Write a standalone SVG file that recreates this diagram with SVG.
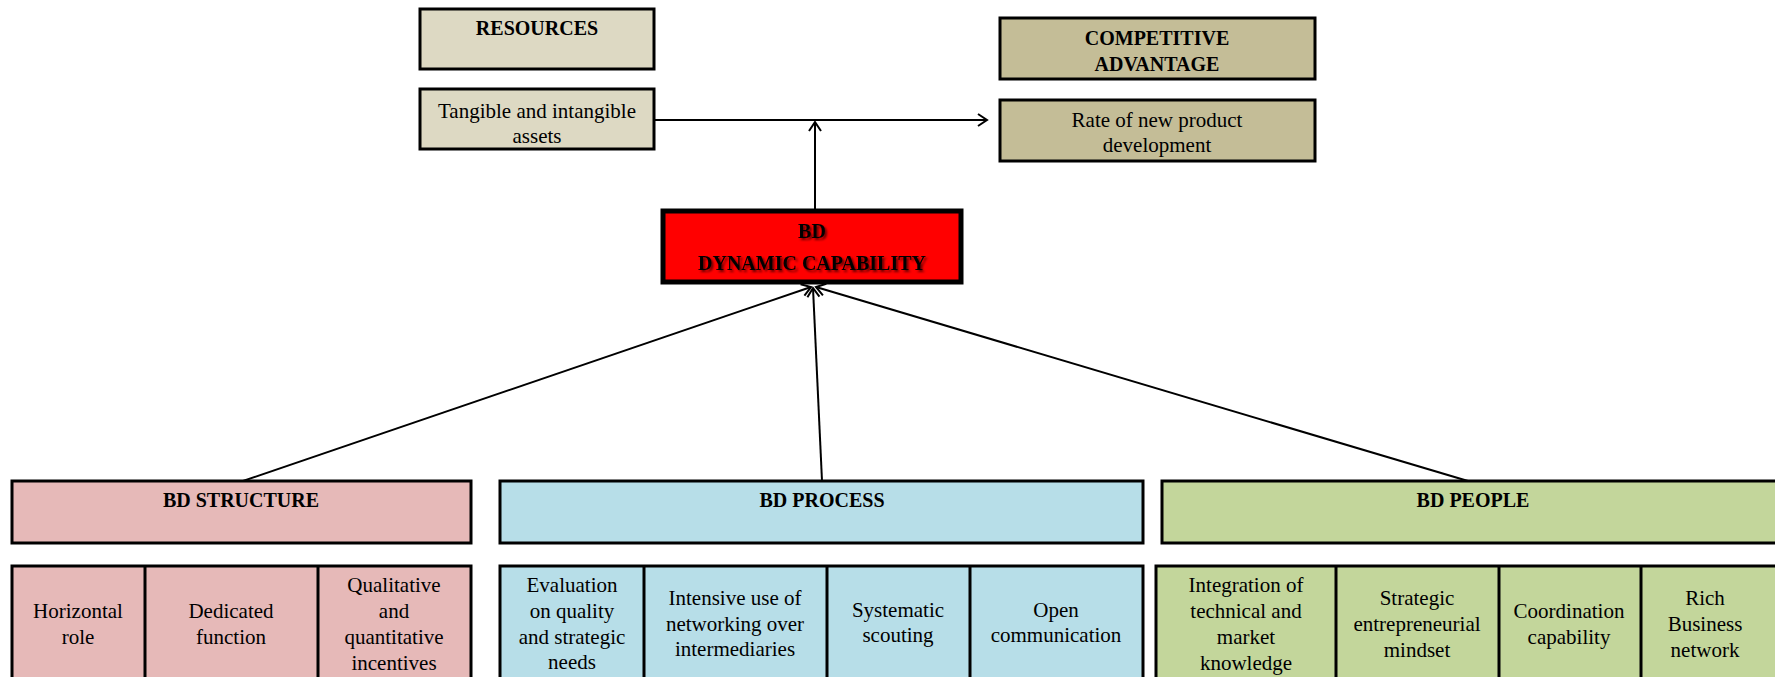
<svg xmlns="http://www.w3.org/2000/svg" width="1775" height="677" viewBox="0 0 1775 677">
<style>
  text { font-family: "Liberation Serif", "Times New Roman", Tinos, "Noto Serif", "DejaVu Serif", serif; fill: #000; text-anchor: middle; }
  .t { font-weight: bold; font-size: 20px; }
  .r { font-family: "Times New Roman", "Liberation Serif", Tinos, "Noto Serif", "DejaVu Serif", serif; font-weight: normal; font-style: normal; font-size: 21px; }
  .box { stroke: #000; stroke-width: 3; }
  .res { fill: #DDD9C3; }
  .comp { fill: #C4BD97; }
  .str { fill: #E6B9B8; }
  .pro { fill: #B7DEE8; }
  .peo { fill: #C3D69B; }
  .con { stroke: #000; stroke-width: 2; fill: none; }
</style>
<defs>
  <marker id="arr" markerUnits="userSpaceOnUse" markerWidth="16" markerHeight="16" refX="11" refY="7" orient="auto">
    <path d="M2,1 L11,7 L2,13" fill="none" stroke="#000" stroke-width="2"/>
  </marker>
  <filter id="sh" x="-10%" y="-30%" width="120%" height="160%">
    <feDropShadow dx="2" dy="2" stdDeviation="1.2" flood-color="#000" flood-opacity="0.6"/>
  </filter>
</defs>
<rect width="1775" height="677" fill="#fff"/>

<g id="connectors">
  <line class="con" x1="654" y1="120" x2="987" y2="120" marker-end="url(#arr)"/>
  <line class="con" x1="815" y1="211" x2="815" y2="122" marker-end="url(#arr)"/>
  <line class="con" x1="243" y1="481" x2="811" y2="287" marker-end="url(#arr)"/>
  <line class="con" x1="822" y1="481" x2="813" y2="288" marker-end="url(#arr)"/>
  <line class="con" x1="1468" y1="481" x2="816" y2="287" marker-end="url(#arr)"/>
</g>

<g id="resources">
  <rect class="box res" x="420" y="9" width="234" height="60"/>
  <text class="t" x="537" y="35">RESOURCES</text>
</g>
<g id="assets">
  <rect class="box res" x="420" y="89" width="234" height="60"/>
  <text class="r" x="537" y="118">Tangible and intangible</text>
  <text class="r" x="537" y="143">assets</text>
</g>
<g id="competitive">
  <rect class="box comp" x="1000" y="18" width="315" height="61"/>
  <text class="t" x="1157" y="45">COMPETITIVE</text>
  <text class="t" x="1157" y="71">ADVANTAGE</text>
</g>
<g id="rate">
  <rect class="box comp" x="1000" y="100" width="315" height="61"/>
  <text class="r" x="1157" y="127">Rate of new product</text>
  <text class="r" x="1157" y="152">development</text>
</g>
<g id="dynamic">
  <rect x="663" y="211" width="298" height="71" fill="#FF0000" stroke="#000" stroke-width="5"/>
  <g filter="url(#sh)">
    <text class="t" x="812" y="238">BD</text>
    <text class="t" x="812" y="270">DYNAMIC CAPABILITY</text>
  </g>
</g>

<g id="structure">
  <rect class="box str" x="12" y="481" width="459" height="62"/>
  <text class="t" x="241" y="507">BD STRUCTURE</text>
</g>
<g id="structure-items">
  <rect class="box str" x="12" y="566" width="459" height="120"/>
  <line class="box" x1="145" y1="566" x2="145" y2="680"/>
  <line class="box" x1="318" y1="566" x2="318" y2="680"/>
  <text class="r" x="78" y="618">Horizontal</text>
  <text class="r" x="78" y="644">role</text>
  <text class="r" x="231" y="618">Dedicated</text>
  <text class="r" x="231" y="644">function</text>
  <text class="r" x="394" y="592">Qualitative</text>
  <text class="r" x="394" y="618">and</text>
  <text class="r" x="394" y="644">quantitative</text>
  <text class="r" x="394" y="670">incentives</text>
</g>

<g id="process">
  <rect class="box pro" x="500" y="481" width="643" height="62"/>
  <text class="t" x="822" y="507">BD PROCESS</text>
</g>
<g id="process-items">
  <rect class="box pro" x="500" y="566" width="643" height="120"/>
  <line class="box" x1="644" y1="566" x2="644" y2="680"/>
  <line class="box" x1="827" y1="566" x2="827" y2="680"/>
  <line class="box" x1="970" y1="566" x2="970" y2="680"/>
  <text class="r" x="572" y="592">Evaluation</text>
  <text class="r" x="572" y="618">on quality</text>
  <text class="r" x="572" y="644">and strategic</text>
  <text class="r" x="572" y="669">needs</text>
  <text class="r" x="735" y="605">Intensive use of</text>
  <text class="r" x="735" y="631">networking over</text>
  <text class="r" x="735" y="656">intermediaries</text>
  <text class="r" x="898" y="617">Systematic</text>
  <text class="r" x="898" y="642">scouting</text>
  <text class="r" x="1056" y="617">Open</text>
  <text class="r" x="1056" y="642">communication</text>
</g>

<g id="people">
  <rect class="box peo" x="1162" y="481" width="625" height="62"/>
  <text class="t" x="1473" y="507">BD PEOPLE</text>
</g>
<g id="people-items">
  <rect class="box peo" x="1156" y="566" width="630" height="120"/>
  <line class="box" x1="1336" y1="566" x2="1336" y2="680"/>
  <line class="box" x1="1499" y1="566" x2="1499" y2="680"/>
  <line class="box" x1="1641" y1="566" x2="1641" y2="680"/>
  <text class="r" x="1246" y="592">Integration of</text>
  <text class="r" x="1246" y="618">technical and</text>
  <text class="r" x="1246" y="644">market</text>
  <text class="r" x="1246" y="670">knowledge</text>
  <text class="r" x="1417" y="605">Strategic</text>
  <text class="r" x="1417" y="631">entrepreneurial</text>
  <text class="r" x="1417" y="657">mindset</text>
  <text class="r" x="1569" y="618">Coordination</text>
  <text class="r" x="1569" y="644">capability</text>
  <text class="r" x="1705" y="605">Rich</text>
  <text class="r" x="1705" y="631">Business</text>
  <text class="r" x="1705" y="657">network</text>
</g>
</svg>
